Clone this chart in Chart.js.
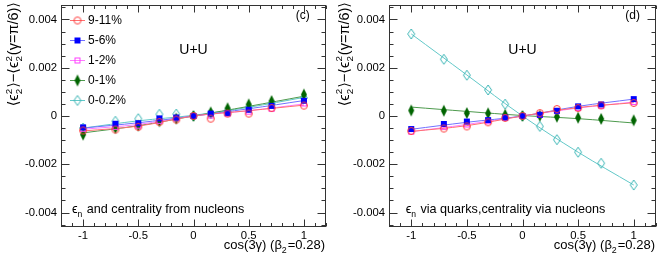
<!DOCTYPE html>
<html>
<head>
<meta charset="utf-8">
<script src="https://cdn.jsdelivr.net/npm/chart.js@4.4.1/dist/chart.umd.min.js"></script>
<style>
  html, body { margin: 0; padding: 0; background: #fff; }
  #wrap { width: 664px; height: 260px; display: flex; }
  canvas { display: block; }
</style>
</head>
<body>
<div id="wrap">
  <canvas id="panelC" width="332" height="260"></canvas>
  <canvas id="panelD" width="332" height="260"></canvas>
</div>
<script>
// x positions: cos(3 gamma)
const cosVals = [-1, -0.707, -0.5, -0.309, -0.156, 0, 0.156, 0.309, 0.5, 0.707, 1];
const fitX = [-1, -0.5, 0, 0.5, 1];

const seriesLabels = ['9-11%', '5-6%', '1-2%', '0-1%', '0-0.2%'];

// panel (c): eps_n and centrality from nucleons
const c911 = [-0.0006, -0.00056, -0.00045, -0.00025, -0.00015, 0, -0.00011, 0.0001, 0.0001, 0.00033, 0.00043];
const c56 = [-0.00047, -0.00032, -0.0003, -0.0001, -0.00006, 0, 0.0001, 0.00012, 0.00026, 0.00042, 0.00063];
const c12 = [-0.00053, -0.00045, -0.0004, -0.0002, -0.0001, 0, 0.00002, 0.0001, 0.00018, 0.0003, 0.00052];
const c01 = [-0.00077, -0.0005, -0.0004, -0.00022, -0.00011, 0, 0.00015, 0.00032, 0.00048, 0.00062, 0.00089];
const c002 = [-0.0005, -0.00022, -0.00011, 0.00007, 0.00008, 0, 0.0001, 0.00022, 0.00035, 0.0005, 0.00075];

const cFit911 = [-0.00062, -0.00042, 0, 0.00022, 0.00045];
const cFit56 = [-0.0005, -0.00028, 0, 0.0003, 0.00064];
const cFit12 = [-0.00055, -0.00035, 0, 0.00022, 0.0005];
const cFit01 = [-0.0007, -0.0004, 0, 0.0004, 0.00082];
const cFit002 = [-0.0005, -0.0002, 0.00003, 0.00036, 0.00077];

// panel (d): eps_n via quarks, centrality via nucleons
const d911 = [-0.00062, -0.00052, -0.00043, -0.00026, -0.00008, 0, 0.00012, 0.00029, 0.00033, 0.00044, 0.00054];
const d56 = [-0.00054, -0.00033, -0.00023, -0.00017, -0.00006, 0, 0.00005, 0.00022, 0.0004, 0.00048, 0.0007];
const d12 = [-0.00065, -0.00045, -0.00035, -0.00022, -0.00007, 0, 0.00005, 0.0002, 0.00033, 0.00042, 0.00058];
const d01 = [0.00023, 0.00022, 0.00012, 0.00011, 0.00005, 0, 0.00001, -0.00003, -0.00007, -0.00012, -0.00018];
const d002 = [0.0034, 0.00235, 0.00169, 0.00108, 0.00049, 0, -0.00043, -0.00098, -0.0015, -0.00196, -0.00286];

const dFit911 = [-0.00064, -0.0004, 0, 0.00035, 0.00055];
const dFit56 = [-0.00055, -0.00026, 0, 0.0004, 0.0007];
const dFit12 = [-0.00065, -0.00035, 0, 0.00033, 0.00058];
const dFit01 = [0.00037, 0.00019, 0.00002, -0.00011, -0.00029];
const dFit002 = [0.0034, 0.0017, 0, -0.0015, -0.00286];

const xTicks = [-1, -0.5, 0, 0.5, 1];
const yTicks = [-0.004, -0.002, 0, 0.002, 0.004];

// styles
const markerColors = ['#ff3b3b', '#0000ff', '#ff3cff', '#006400', '#3cb6b6'];
const lineColors = ['#ff7070', '#7070ff', '#ff7cff', '#4d9a4d', '#62c8c8'];
const markerKinds = ['circle', 'square', 'openSquare', 'thinDiamond', 'diamond'];
const FONT = '"Liberation Sans", "DejaVu Sans", sans-serif';

const makeMarker = (kind, color) => {
   const c = document.createElement('canvas');
   c.width = 12;
   c.height = 14;
   const g = c.getContext('2d');
   const cx = 6, cy = 7;
   g.strokeStyle = color;
   g.fillStyle = color;
   g.lineWidth = 1;
   g.beginPath();
   if (kind === 'circle') {
      g.arc(cx, cy, 3.5, 0, 2 * Math.PI);
      g.stroke();
   } else if (kind === 'square') {
      g.fillRect(cx - 3, cy - 3, 6, 6);
   } else if (kind === 'openSquare') {
      g.strokeRect(cx - 2.5, cy - 2.5, 5, 5);
   } else if (kind === 'thinDiamond') {
      g.moveTo(cx, cy - 6); g.lineTo(cx + 3, cy); g.lineTo(cx, cy + 6); g.lineTo(cx - 3, cy); g.closePath();
      g.fill();
   } else {
      g.moveTo(cx, cy - 5); g.lineTo(cx + 3.5, cy); g.lineTo(cx, cy + 5); g.lineTo(cx - 3.5, cy); g.closePath();
      g.stroke();
   }
   return c;
};
const markers = markerKinds.map((k, i) => makeMarker(k, markerColors[i]));

// text with sub/superscripts, y is the baseline
const drawRich = (ctx, parts, x, y, size, align) => {
   const small = size * 0.68;
   const widthOf = (p) => {
      if (p.t !== undefined) {
         ctx.font = `${size}px ${FONT}`;
         return ctx.measureText(p.t).width;
      }
      ctx.font = `${small}px ${FONT}`;
      return Math.max(ctx.measureText(p.sub || '').width, ctx.measureText(p.sup || '').width) + 1;
   };
   const total = parts.reduce((s, p) => s + widthOf(p), 0);
   let cx = align === 'right' ? x - total : align === 'center' ? x - total / 2 : x;
   ctx.textAlign = 'left';
   ctx.textBaseline = 'alphabetic';
   parts.forEach((p) => {
      const w = widthOf(p);
      if (p.t !== undefined) {
         ctx.font = `${size}px ${FONT}`;
         ctx.fillText(p.t, cx, y);
      } else {
         ctx.font = `${small}px ${FONT}`;
         if (p.sup) ctx.fillText(p.sup, cx, y - size * 0.42);
         if (p.sub) ctx.fillText(p.sub, cx, y + size * 0.28);
      }
      cx += w;
   });
   return total;
};

const yTitle = [{ t: '⟨ϵ' }, { sup: '2', sub: '2' }, { t: '⟩−⟨ϵ' }, { sup: '2', sub: '2' }, { t: '(γ=π/6)⟩' }];
const xTitle = [{ t: 'cos(3γ) (β' }, { sub: '2' }, { t: '=0.28)' }];

const framePlugin = {
   id: 'rootFrame',
   afterDatasetsDraw(chart) {
      const { ctx, chartArea: a, scales } = chart;
      const xs = scales.x, ys = scales.y;
      const cfg = chart.options.plugins.rootFrame;
      const L = Math.round(a.left) + 0.5, R = Math.round(a.right) - 0.5;
      const T = Math.round(a.top) + 0.5, B = Math.round(a.bottom) - 0.5;
      ctx.save();
      ctx.strokeStyle = '#333';
      ctx.lineWidth = 1;
      ctx.strokeRect(L, T, R - L, B - T);

      ctx.beginPath();
      for (let v = -0.0045; v <= 0.00451; v += 0.0005) {
         const y = Math.round(ys.getPixelForValue(v)) + 0.5;
         const major = yTicks.some((t) => Math.abs(t - v) < 1e-7);
         const len = major ? 8 : 4;
         ctx.moveTo(L, y); ctx.lineTo(L + len, y);
         ctx.moveTo(R, y); ctx.lineTo(R - len, y);
      }
      for (let v = -1.2; v <= 1.201; v += 0.1) {
         const x = Math.round(xs.getPixelForValue(v)) + 0.5;
         const major = xTicks.some((t) => Math.abs(t - v) < 1e-7);
         const len = major ? 7 : 3.5;
         ctx.moveTo(x, B); ctx.lineTo(x, B - len);
         ctx.moveTo(x, T); ctx.lineTo(x, T + len);
      }
      ctx.stroke();

      ctx.fillStyle = '#000';
      ctx.font = `11.3px ${FONT}`;
      ctx.textAlign = 'right';
      ctx.textBaseline = 'middle';
      yTicks.forEach((v) => {
         ctx.fillText(v === 0 ? '0' : v.toFixed(3), a.left - 4, ys.getPixelForValue(v));
      });
      ctx.textAlign = 'center';
      xTicks.forEach((v) => {
         ctx.fillText(String(v), xs.getPixelForValue(v), a.bottom + 9);
      });

      // axis titles
      drawRich(ctx, xTitle, a.right - 1, a.bottom + 22, 13, 'right');
      ctx.save();
      ctx.translate(0, a.top - 3);
      ctx.rotate(-Math.PI / 2);
      drawRich(ctx, yTitle, 0, cfg.titleX + 5, 14.5, 'right');
      ctx.restore();

      // labels inside the frame
      ctx.textAlign = 'center';
      ctx.textBaseline = 'middle';
      ctx.font = `12px ${FONT}`;
      ctx.fillText(cfg.tag, xs.getPixelForValue(0.99), ys.getPixelForValue(0.00417));
      ctx.font = `14px ${FONT}`;
      ctx.fillText('U+U', xs.getPixelForValue(0), ys.getPixelForValue(0.00273));
      drawRich(ctx, cfg.note, xs.getPixelForValue(cfg.noteX), ys.getPixelForValue(-0.00385) + 4.5, 12.6, 'left');

      if (cfg.legend) {
         const series = chart.data.datasets.filter((d) => d.isSeries);
         series.forEach((d, i) => {
            const y = Math.round(a.top + 15 + i * 20) + 0.5;
            ctx.strokeStyle = d.lineColor;
            ctx.beginPath();
            ctx.moveTo(a.left + 9, y);
            ctx.lineTo(a.left + 24, y);
            ctx.stroke();
            ctx.drawImage(d.pointStyle, a.left + 16.5 - d.pointStyle.width / 2, y - d.pointStyle.height / 2);
            ctx.fillStyle = '#000';
            ctx.font = `12px ${FONT}`;
            ctx.textAlign = 'left';
            ctx.textBaseline = 'middle';
            ctx.fillText(d.label, a.left + 27, y);
         });
      }
      ctx.restore();
   },
};

const buildDatasets = (pointsList, fitList) => {
   const ds = [];
   seriesLabels.forEach((label, i) => {
      ds.push({
         type: 'line',
         label: label + ' fit',
         data: fitX.map((x, j) => ({ x, y: fitList[i][j] })),
         borderColor: lineColors[i],
         borderWidth: 1,
         pointRadius: 0,
         tension: 0.35,
         fill: false,
         order: 2,
      });
   });
   seriesLabels.forEach((label, i) => {
      ds.push({
         type: 'scatter',
         label,
         data: cosVals.map((x, j) => ({ x, y: pointsList[i][j] })),
         pointStyle: markers[i],
         pointRadius: 4,
         showLine: false,
         order: 1,
         isSeries: true,
         lineColor: lineColors[i],
      });
   });
   return ds;
};

const makePanel = (id, datasets, pad, frame) => new Chart(document.getElementById(id), {
   type: 'scatter',
   data: { datasets },
   options: {
      responsive: false,
      animation: false,
      events: [],
      layout: { padding: pad },
      scales: {
         x: { type: 'linear', min: -1.2, max: 1.2, display: false },
         y: { type: 'linear', min: -0.0046, max: 0.0046, display: false },
      },
      plugins: { legend: { display: false }, tooltip: { enabled: false }, rootFrame: frame },
   },
   plugins: [framePlugin],
});

makePanel('panelC',
   buildDatasets([c911, c56, c12, c01, c002], [cFit911, cFit56, cFit12, cFit01, cFit002]),
   { left: 61, right: 6, top: 5, bottom: 33 },
   { tag: '(c)', legend: true, titleX: 13, noteX: -1.1,
     note: [{ t: 'ϵ' }, { sub: 'n' }, { t: ' and centrality from nucleons' }] });

makePanel('panelD',
   buildDatasets([d911, d56, d12, d01, d002], [dFit911, dFit56, dFit12, dFit01, dFit002]),
   { left: 57, right: 8, top: 5, bottom: 33 },
   { tag: '(d)', legend: false, titleX: 11.5, noteX: -1.05,
     note: [{ t: 'ϵ' }, { sub: 'n' }, { t: ' via quarks,centrality via nucleons' }] });
</script>
</body>
</html>
